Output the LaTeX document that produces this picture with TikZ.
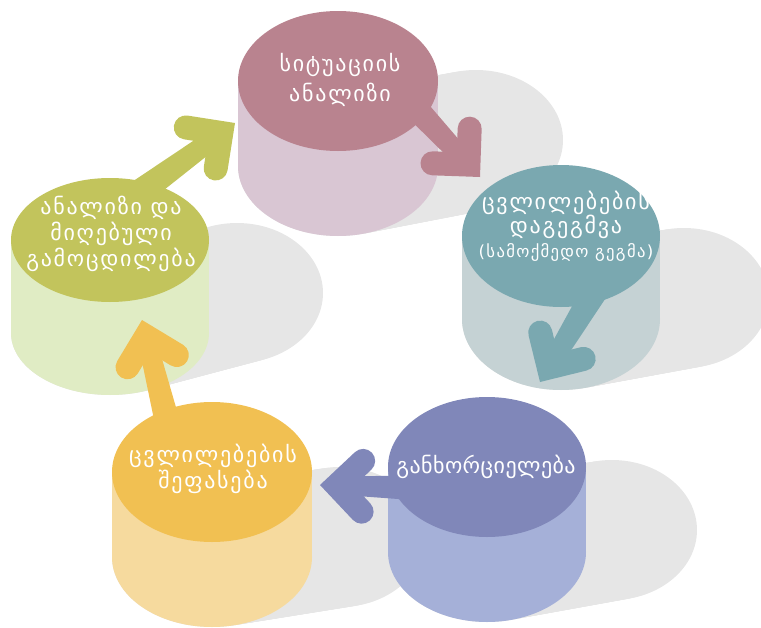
\documentclass[tikz,border=0pt]{standalone}
\usepackage{fontspec}
\newfontfamily\geo{DejaVu Sans}[LetterSpace=8]
\newfontfamily\geotight{DejaVu Sans}[LetterSpace=2]
\usetikzlibrary{calc}
\definecolor{shd}{HTML}{E6E6E6}
\definecolor{mautop}{HTML}{B9838F}\definecolor{maubody}{HTML}{D9C6D3}
\definecolor{teatop}{HTML}{7AA8B0}\definecolor{teabody}{HTML}{C5D2D4}
\definecolor{grntop}{HTML}{C2C45C}\definecolor{grnbody}{HTML}{E0ECC4}
\definecolor{yeltop}{HTML}{F1C052}\definecolor{yelbody}{HTML}{F6DA9E}
\definecolor{purtop}{HTML}{8087B9}\definecolor{purbody}{HTML}{A5B0D8}
\tikzset{
  lbl/.style={text=white, align=center, inner sep=0pt, font=\geo\fontsize{16.5}{19}\selectfont},
}
\newcommand\shadowsweep[8]{%
  \foreach \i in {0,...,30}{%
    \pgfmathsetmacro\tt{\i/30}%
    \pgfmathsetmacro\sx{#1+(#5-#1)*\tt}%
    \pgfmathsetmacro\sy{#2+(#6-#2)*\tt}%
    \pgfmathsetmacro\srx{#3+(#7-#3)*\tt}%
    \pgfmathsetmacro\sry{#4+(#8-#4)*\tt}%
    \fill[shd] (\sx,\sy) ellipse [x radius=\srx, y radius=\sry];
  }}
\newcommand\cylinder[6]{% cx, cy, rx, ry, height, colour prefix
  \fill[#6body] (#1-#3,#2) rectangle (#1+#3,#2+#5);
  \fill[#6body] (#1,#2+#5) ellipse [x radius=#3, y radius=#4];
  \fill[#6top] (#1,#2) ellipse [x radius=#3, y radius=#4];
}
\newcommand\fatarrow[3]{% colour, start, tip
  \path let \p1=(#2), \p2=(#3), \n1={atan2(\y2-\y1,\x2-\x1)}, \n2={veclen(\x2-\x1,\y2-\y1)/0.75} in
    \pgfextra{\xdef\arrang{\n1}\xdef\arrlen{\n2}};
  \begin{scope}[shift={(#3)}, rotate=\arrang, x=0.75pt, y=0.75pt]
    \fill[#1] (-\arrlen,14) -- (-28,9.5) -- (-28,-9.5) -- (-\arrlen,-14) -- cycle;
    \fill[#1] (0,0) -- (-33.9,33.9) arc[start angle=45,end angle=225,radius=12]
      -- (-34,0) -- (-50.9,-16.9) arc[start angle=135,end angle=315,radius=12] -- cycle;
  \end{scope}}
\begin{document}
\begin{tikzpicture}[x=0.75pt,y=-0.75pt]
\useasboundingbox (0,0) rectangle (761,628);
\clip (0,0) rectangle (761,628);
% shadows
\shadowsweep{338}{166}{100}{70}{476}{140}{87}{70}
\shadowsweep{561}{319}{99}{71}{684}{298}{85}{70}
\shadowsweep{110}{333}{99}{62}{237}{293}{86}{70}
\shadowsweep{212}{557}{100}{70}{340}{537}{85}{70}
\shadowsweep{487}{552}{99}{70}{612}{530}{85}{70}
% cylinders
\cylinder{338}{81}{100}{70}{85}{mau}
\cylinder{561}{236}{99}{71}{83}{tea}
\cylinder{110}{240}{99}{62}{93}{grn}
\cylinder{212}{472}{100}{70}{85}{yel}
\cylinder{487}{467}{99}{70}{85}{pur}
% arrow end points
\coordinate (a1s) at (410,102); \coordinate (a1t) at (480,177);
\coordinate (a2s) at (592,296); \coordinate (a2t) at (540,382);
\coordinate (a3s) at (420,488); \coordinate (a3t) at (320,485);
\coordinate (a4s) at (168,425); \coordinate (a4t) at (142,320);
\coordinate (a5s) at (150,185); \coordinate (a5t) at (235,123);
\fatarrow{mautop}{a1s}{a1t}
\fatarrow{teatop}{a2s}{a2t}
\fatarrow{purtop}{a3s}{a3t}
\fatarrow{yeltop}{a4s}{a4t}
\fatarrow{grntop}{a5s}{a5t}
% labels
\node[lbl, font=\geo\fontsize{16.5}{22.5}\selectfont] (t1) at (340,80) {სიტუაციის\\ანალიზი};
\node[lbl, font=\geo\fontsize{16.5}{18}\selectfont] (t2) at (566,226) {ცვლილებების\\დაგეგმვა\\{\fontsize{12.5}{20}\selectfont (სამოქმედო გეგმა)}};
\node[lbl, font=\geotight\fontsize{16.5}{19}\selectfont] (t3) at (486,467) {განხორციელება};
\node[lbl] (t4) at (213,469) {ცვლილებების\\შეფასება};
\node[lbl, font=\geo\fontsize{16.5}{19.5}\selectfont] (t5) at (111,234) {ანალიზი და\\მიღებული\\გამოცდილება};
\end{tikzpicture}
\end{document}
